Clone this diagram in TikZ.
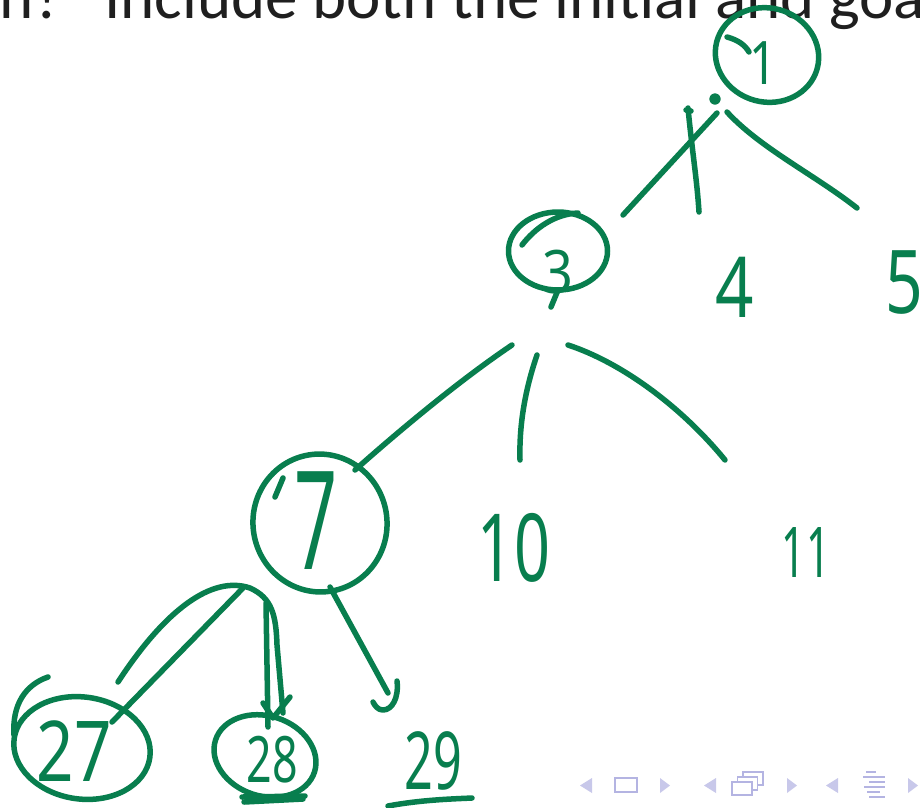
\documentclass[tikz,border=0pt]{standalone}
\usepackage{fontspec}
\setmainfont{Carlito}
\newfontfamily\hwfont{Noto Sans}
\usetikzlibrary{shapes.geometric}
\definecolor{pen}{RGB}{8,126,78}
\definecolor{navc}{RGB}{200,200,234}
\definecolor{navd}{RGB}{180,180,226}
\newcommand\hw[3]{\scalebox{#2}[1]{\hwfont\fontsize{#1}{#1}\selectfont #3}}
\begin{document}
\begin{tikzpicture}[x=1pt,y=-1pt,
  pen/.style={draw=pen, line width=5.5pt, line cap=round, line join=round},
  circled/.style={ellipse, pen, inner sep=0pt, fill=none},
  digit/.style={text=pen, inner sep=0pt, anchor=center},
  slide/.style={font=\fontsize{65}{78}\selectfont, text=black!88, inner sep=0pt},
  navtri/.style={fill=navc, draw=none},
  navbox/.style={draw=navd, line width=1.6pt}]
\useasboundingbox (0,0) rectangle (920,807);
\clip (0,0) rectangle (920,807);
\fill[white] (0,0) rectangle (920,807);

% slide text (cut at top)
\node[slide, anchor=base east] (q1) at (64,18) {ch?};
\node[slide, anchor=base west] (q2) at (104,18) {Include both the initial and goa};

% circled nodes
\node[circled, minimum width=104pt, minimum height=94pt, rotate=-15] (c1) at (767,55) {};
\node[circled, minimum width=99pt, minimum height=78pt] (c3) at (558,251) {};
\node[circled, minimum width=134pt, minimum height=138pt, rotate=10] (c7) at (320,523) {};
\node[circled, minimum width=137pt, minimum height=102pt, rotate=-8] (c27) at (82,748) {};
\node[circled, minimum width=104pt, minimum height=80pt, rotate=-18] (c28) at (265,756) {};

% digits
\node[digit] (n1) at (763,63) {\hw{60}{0.8}{1}};
\node[digit] (n3) at (558,272) {\hw{60}{0.9}{3}};
\node[digit] (n4) at (735,287) {\hw{84}{0.8}{4}};
\node[digit] (n5) at (904,283) {\hw{88}{0.75}{5}};
\node[digit] (n7) at (316,521) {\hw{137}{0.55}{7}};
\node[digit] (n10) at (514,548) {\hw{94}{0.67}{10}};
\node[digit] (n11) at (806,552) {\hw{70}{0.6}{11}};
\node[digit] (n27) at (74,751) {\hw{84}{0.78}{27}};
\node[digit] (n28) at (272,760) {\hw{64}{0.7}{28}};
\node[digit] (n29) at (433,761) {\hw{80}{0.63}{29}};

% pen overshoots on circles
\draw[pen] (727,37) .. controls (738,40) and (745,45) .. (749,52);
\draw[pen] (522,245) .. controls (535,228) and (555,214) .. (578,213);
\draw[pen] (275,497) -- (283,478);
\draw[pen] (48,677) .. controls (25,685) and (12,705) .. (14,735);
\draw[pen] (558,290) -- (551,307);

% connector end points
\coordinate (a1) at (717,113); \coordinate (b3) at (623,215);
\coordinate (a4) at (688,108); \coordinate (b4) at (699,212);
\coordinate (a5) at (727,112); \coordinate (b5) at (857,208);
\coordinate (a7) at (512,345); \coordinate (b7) at (355,470);
\coordinate (a10) at (537,355); \coordinate (b10) at (520,460);
\coordinate (a11) at (568,345); \coordinate (b11) at (725,460);
\coordinate (a27) at (243,588); \coordinate (b27) at (112,722);
\coordinate (arc27) at (118,682);
\coordinate (a28) at (266,603); \coordinate (b28) at (268,727);
\coordinate (a29) at (330,587); \coordinate (b29) at (388,693);

% edges level 1
\draw[pen] (a1) -- (b3);
\draw[pen] (a4) .. controls (692,150) and (697,180) .. (b4);
\draw[pen] (686,110) -- (691,111);
\fill[pen] (715,99) circle (3pt);
\draw[pen] (a5) .. controls (760,148) and (815,175) .. (b5);

% edges level 2
\draw[pen] (a7) .. controls (460,380) and (400,430) .. (b7);
\draw[pen] (a10) .. controls (525,390) and (519,425) .. (b10);
\draw[pen] (a11) .. controls (620,362) and (680,405) .. (b11);

% edges level 3
\draw[pen] (arc27) .. controls (165,610) and (212,575) .. (250,588)
  .. controls (272,598) and (276,615) .. (277,645) -- (283,713);
\draw[pen] (a27) -- (b27);
\draw[pen] (a28) -- (b28);
\draw[pen] (263,703) -- (273,718) -- (290,697);
\draw[pen] (a29) -- (b29);
\draw[pen] (397,681) .. controls (399,698) and (392,710) .. (383,710) .. controls (378,710) and (375,706) .. (373,702);

% underlines
\draw[pen] (242,797) -- (305,796);
\draw[pen] (244,802) -- (303,799);
\draw[pen] (388,806) .. controls (420,800) and (450,799) .. (472,798);

% beamer navigation symbols
\fill[navtri] (592,778) -- (592,793) -- (580,785.5) -- cycle;
\draw[navbox] (615,778) rectangle (637,792);
\fill[navtri] (660,778) -- (660,793) -- (670,785.5) -- cycle;
\fill[navtri] (716,778) -- (716,793) -- (704,785.5) -- cycle;
\draw[navbox, fill=white] (743,772) rectangle (763,785);
\draw[navbox, fill=white] (737.5,777) rectangle (757.5,790);
\draw[navbox, fill=white] (732,782) rectangle (752,795);
\fill[navtri] (787,778) -- (787,793) -- (797,785.5) -- cycle;
\fill[navtri] (838,778) -- (838,793) -- (826,785.5) -- cycle;
\draw[navbox] (866,772) -- (876,772);
\draw[navbox] (863,777) -- (885,777);
\draw[navbox] (869,782) -- (885,782);
\draw[navbox] (864,787) -- (885,787);
\draw[navbox] (867,792) -- (880,792);
\draw[navbox] (869,797) -- (885,797);
\fill[navtri] (908,778) -- (908,793) -- (918,785.5) -- cycle;
\end{tikzpicture}
\end{document}
